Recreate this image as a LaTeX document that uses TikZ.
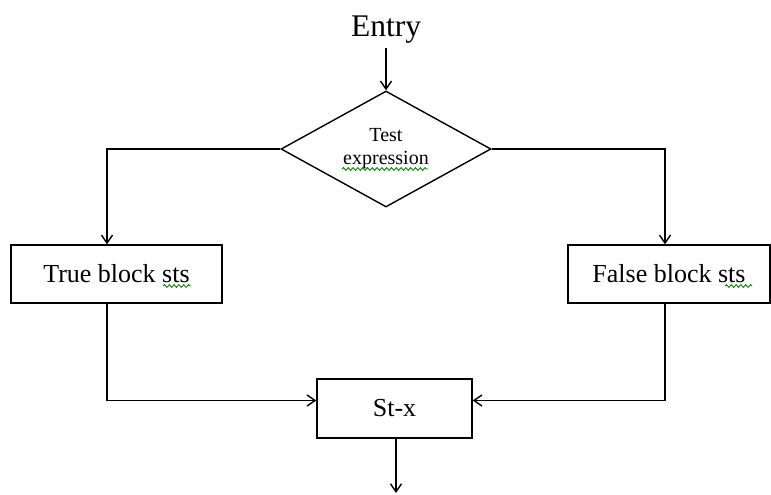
\documentclass[tikz,border=0pt]{standalone}
\usepackage{fontspec}
\setmainfont{Liberation Serif}
\usetikzlibrary{shapes.geometric, arrows.meta, decorations.pathmorphing}

\begin{document}
\begin{tikzpicture}[x=0.5pt, y=-0.5pt, line width=0.7pt,
    >={Straight Barb[length=4pt, width=5.5pt]},
    box/.style={draw, rectangle, inner sep=0pt, font=\fontsize{13}{15}\selectfont},
    squig/.style={decorate, decoration={snake, amplitude=0.7pt, segment length=2.4pt},
        green!55!black, line width=0.45pt}]
    \useasboundingbox (0,0) rectangle (771,494);

    \node[font=\fontsize{15.75}{18}\selectfont, inner sep=2pt] (entry) at (386,30) {Entry};
    \node[draw, diamond, aspect=1.8, inner sep=1pt, minimum width=105pt, minimum height=58pt,
        align=center, font=\fontsize{10}{11.5}\selectfont] (test) at (386,149) {Test\\expression};

    \node[box, minimum width=105.5pt, minimum height=29pt] (tbs) at (116.5,274) {True block sts};
    \node[box, minimum width=101pt, minimum height=29pt] (fbs) at (669,274) {False block sts};
    \node[box, minimum width=77.5pt, minimum height=29.5pt] (stx) at (394.5,408.5) {St-x};
    \coordinate (exit) at (396,493);

    \draw[->] (entry.south) -- (test.north);
    \draw[->] (test.west) -| ([xshift=-4.75pt]tbs.north);
    \draw[->] (test.east) -| ([xshift=-2pt]fbs.north);
    \draw[->] ([xshift=-4.75pt]tbs.south) |- ([yshift=4pt]stx.west);
    \draw[->] ([xshift=-2pt]fbs.south) |- ([yshift=4pt]stx.east);
    \draw[->] (stx.south -| exit) -- (exit);

    % spell-check marks
    \draw[squig] (163,286) -- (191,286);
    \draw[squig] (725,286) -- (752,286);
    \draw[squig] (342,169) -- (428,169);
\end{tikzpicture}
\end{document}
